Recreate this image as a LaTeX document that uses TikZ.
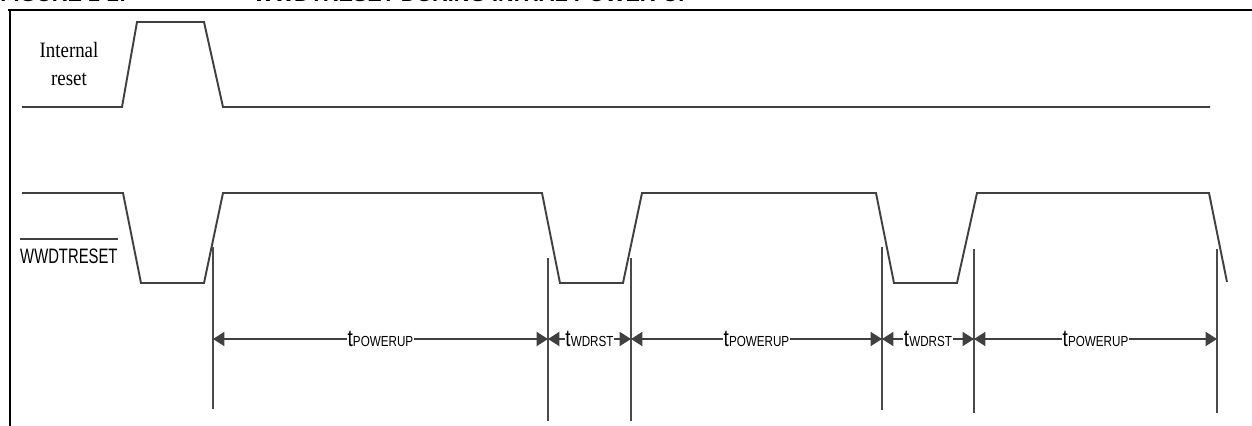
\documentclass[tikz,border=0pt]{standalone}
\usepackage{fontspec}
\setmainfont{Liberation Serif}
\setsansfont{Liberation Sans}
\usetikzlibrary{arrows.meta}
\definecolor{sig}{HTML}{404040}
\definecolor{ext}{HTML}{4A4A4A}
\begin{document}
\begin{tikzpicture}[x=0.02cm,y=-0.02cm,
  signal/.style={draw=sig,line width=1.1pt,line join=miter},
  extline/.style={draw=ext,line width=0.8pt},
  dimline/.style={draw=sig,line width=1pt,
    {Triangle[length=6.5pt,width=8pt]}-{Triangle[length=6.5pt,width=8pt]}},
  dimlabel/.style={fill=white,inner sep=0.6pt,text=black,xscale=0.8,
    font=\sffamily\fontsize{13.5}{15}\selectfont},
  frameline/.style={draw=black,line width=1.7pt},
  titletext/.style={font=\sffamily\bfseries\fontsize{12.3}{14}\selectfont,
    anchor=base west,inner sep=0pt}]
\clip (0,0) rectangle (1252,426);

% clipped title
\node[titletext] (fig) at (0,1.5) {FIGURE 1-2:};
\node[titletext] (title) at (253,1.5) {WWDTRESET DURING INITIAL POWER-UP};

% frame
\draw[frameline] (8,10) -- (1260,10);
\draw[frameline] (10,9) -- (10,430);

% labels
\node[font=\fontsize{12.5}{16}\selectfont,align=center,xscale=0.86,inner sep=0pt] (intlbl) at (69,64) {Internal\\reset};
\node[font=\sffamily\fontsize{11.9}{14}\selectfont,xscale=0.71,anchor=base west,inner sep=0pt] (wlbl) at (20,263) {WWDTRESET};
\draw[draw=sig,line width=1.1pt] ([yshift=5.1pt]wlbl.north west) -- ([yshift=5.1pt]wlbl.north east);

% internal reset signal
\draw[signal] (22,107) -- (122,107) -- (137,22) -- (204,22) -- (223,107) -- (1210,107);

% WWDTRESET signal
\draw[signal] (22,193) -- (123,193) -- (141,283) -- (204,283) -- (223,193)
  -- (542,193) -- (560,283) -- (623,283) -- (642,193)
  -- (876,193) -- (894,283) -- (957,283) -- (977,193)
  -- (1209,193) -- (1227,282);

% extension lines
\coordinate (v1t) at (213,247); \coordinate (v1b) at (213,409);
\coordinate (v2t) at (548,258); \coordinate (v2b) at (548,421);
\coordinate (v3t) at (631,258); \coordinate (v3b) at (631,421);
\coordinate (v4t) at (882,247); \coordinate (v4b) at (882,410);
\coordinate (v5t) at (974,249); \coordinate (v5b) at (974,413);
\coordinate (v6t) at (1217,249); \coordinate (v6b) at (1217,413);
\foreach \i in {1,...,6} {\draw[extline] (v\i t) -- (v\i b);}

% dimension points
\coordinate (d1) at (213,339);
\coordinate (d2) at (548,339);
\coordinate (d3) at (631,339);
\coordinate (d4) at (882,339);
\coordinate (d5) at (974,339);
\coordinate (d6) at (1217,339);

\draw[dimline] (d1) -- (d2) node[midway,dimlabel] (p1) {t{\fontsize{8.3}{9}\selectfont POWERUP}};
\draw[dimline] (d2) -- (d3) node[midway,dimlabel] (w1) {t{\fontsize{8.3}{9}\selectfont WDRST}};
\draw[dimline] (d3) -- (d4) node[midway,dimlabel] (p2) {t{\fontsize{8.3}{9}\selectfont POWERUP}};
\draw[dimline] (d4) -- (d5) node[midway,dimlabel] (w2) {t{\fontsize{8.3}{9}\selectfont WDRST}};
\draw[dimline] (d5) -- (d6) node[midway,dimlabel] (p3) {t{\fontsize{8.3}{9}\selectfont POWERUP}};
\end{tikzpicture}
\end{document}
